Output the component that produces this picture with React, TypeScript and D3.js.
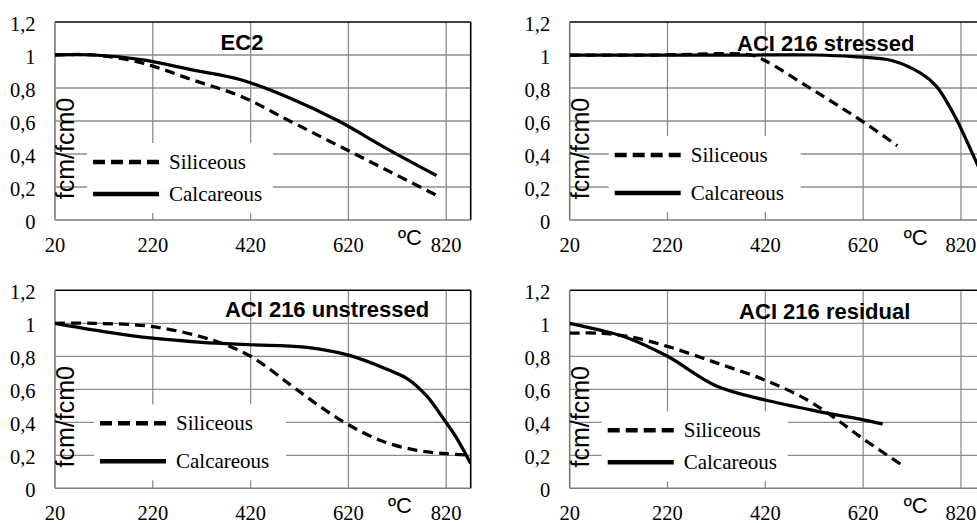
import React from "react";
import * as d3 from "d3";

type Pt = [number, number];

// axis ticks and labels
const xTicks = [20, 220, 420, 620, 820];
const yTicks = [0, 0.2, 0.4, 0.6, 0.8, 1, 1.2];
const yTickLabels = ["0", "0,2", "0,4", "0,6", "0,8", "1", "1,2"];
const seriesNames = ["Siliceous", "Calcareous"];
const panelTitles = ["EC2", "ACI 216 stressed", "ACI 216 unstressed", "ACI 216 residual"];
const yTitle = "fcm/fcm0";
const xTitle = "ºC";

// [temperature ºC, fcm/fcm0]
const ec2Siliceous: Pt[] = [[20, 1], [100, 1], [200, 0.95], [300, 0.85], [400, 0.75], [500, 0.6], [600, 0.45], [700, 0.3], [800, 0.15]];
const ec2Calcareous: Pt[] = [[20, 1], [100, 1], [200, 0.97], [300, 0.91], [400, 0.85], [500, 0.74], [600, 0.6], [700, 0.43], [800, 0.27]];

const stressedSiliceous: Pt[] = [[20, 1], [200, 1], [390, 1], [420, 0.965], [500, 0.82], [560, 0.71], [620, 0.595], [690, 0.45]];
const stressedCalcareous: Pt[] = [[20, 1], [200, 1], [400, 1], [520, 1], [600, 0.99], [680, 0.965], [740, 0.885], [770, 0.81], [800, 0.67], [820, 0.555], [850, 0.36], [870, 0.23]];

const unstressedSiliceous: Pt[] = [[20, 1], [100, 1], [220, 0.98], [340, 0.9], [420, 0.8], [500, 0.63], [560, 0.5], [620, 0.385], [690, 0.285], [760, 0.23], [820, 0.21], [870, 0.2]];
const unstressedCalcareous: Pt[] = [[20, 1], [120, 0.95], [220, 0.91], [320, 0.885], [420, 0.87], [530, 0.855], [620, 0.807], [700, 0.72], [740, 0.665], [780, 0.56], [810, 0.44], [840, 0.31], [870, 0.15]];

const residualSiliceous: Pt[] = [[20, 0.94], [80, 0.94], [140, 0.92], [220, 0.86], [320, 0.76], [420, 0.655], [500, 0.545], [560, 0.43], [620, 0.3], [700, 0.14]];
const residualCalcareous: Pt[] = [[20, 1], [80, 0.96], [140, 0.91], [220, 0.8], [320, 0.62], [420, 0.535], [530, 0.465], [620, 0.415], [660, 0.39]];

const panelSeries: Pt[][][] = [
  [ec2Siliceous, ec2Calcareous],
  [stressedSiliceous, stressedCalcareous],
  [unstressedSiliceous, unstressedCalcareous],
  [residualSiliceous, residualCalcareous],
];

const W = 977;
const H = 523;
const plotW = 415.7;
const plotH = 198;

const serif = { fontFamily: "Liberation Serif, Times New Roman, DejaVu Serif, serif" };
const sans = { fontFamily: "Liberation Sans, Arial, sans-serif" };

const layout = [
  { left: 55, top: 22, title: [187, 28], unit: 343, legend: 0 },
  { left: 569.7, top: 22, title: [256, 29], unit: 334, legend: 1 },
  { left: 55, top: 290.3, title: [272, 26.7], unit: 333, legend: 1 },
  { left: 569.7, top: 290.3, title: [255, 28.4], unit: 334, legend: 0 },
];

const legendStyles = [
  { box: [32, 121, 186, 70], line: [38, 104], rows: [140, 172], text: 114 },
  { box: [39, 114, 192, 76], line: [45, 111], rows: [133, 171], text: 121 },
];

const x = d3.scaleLinear().domain([20, 870]).range([0, plotW]);
const y = d3.scaleLinear().domain([0, 1.2]).range([plotH, 0]);
const line = d3
  .line<Pt>()
  .x((d) => x(d[0]))
  .y((d) => y(d[1]))
  .curve(d3.curveCatmullRom.alpha(0.5));

function Panel({ i }: { i: number }) {
  const L = layout[i];
  const lg = legendStyles[L.legend];
  const series = panelSeries[i];
  const clipId = "clip" + i;
  return (
    <g transform={`translate(${L.left},${L.top})`}>
      <defs>
        <clipPath id={clipId}>
          <rect x={0} y={-2} width={plotW} height={plotH + 4} />
        </clipPath>
      </defs>
      {/* gridlines */}
      {yTicks.slice(1, -1).map((t) => (
        <line key={"gy" + t} x1={0} x2={plotW} y1={y(t)} y2={y(t)} stroke="#8c8c8c" strokeWidth={1.3} />
      ))}
      {xTicks.slice(1).map((t) => (
        <line key={"gx" + t} x1={x(t)} x2={x(t)} y1={0} y2={plotH} stroke="#8c8c8c" strokeWidth={1.3} />
      ))}
      {/* legend box hides grid */}
      <rect x={lg.box[0]} y={lg.box[1]} width={lg.box[2]} height={lg.box[3]} fill="#fff" />
      {/* borders */}
      <line x1={0} x2={plotW} y1={0} y2={0} stroke="#000" strokeWidth={1.6} />
      <line x1={plotW} x2={plotW} y1={0} y2={plotH} stroke="#000" strokeWidth={1.6} />
      <line x1={0} x2={0} y1={0} y2={plotH} stroke="#7a7a7a" strokeWidth={1.6} />
      <line x1={0} x2={plotW} y1={plotH} y2={plotH} stroke="#7a7a7a" strokeWidth={1.6} />
      {/* tick labels */}
      {yTicks.map((t, k) => (
        <text key={"ty" + t} x={-19.5} y={y(t) + 9} textAnchor="end" style={serif} fontSize={20.5} fill="#000">
          {yTickLabels[k]}
        </text>
      ))}
      {xTicks.map((t) => (
        <text key={"tx" + t} x={x(t)} y={plotH + 32} textAnchor="middle" style={serif} fontSize={20.5} fill="#000">
          {t}
        </text>
      ))}
      <text x={L.unit} y={plotH + 25} style={sans} fontSize={22} fill="#000">
        {xTitle}
      </text>
      <text transform={`translate(19,126.5) rotate(-90)`} textAnchor="middle" style={sans} fontSize={25} fill="#000">
        {yTitle}
      </text>
      {/* series */}
      <g clipPath={`url(#${clipId})`}>
        {series.map((s, k) => (
          <path
            key={"s" + k}
            d={line(s) || ""}
            fill="none"
            stroke="#000"
            strokeWidth={3.25}
            strokeDasharray={k === 0 ? "10 6" : undefined}
          />
        ))}
      </g>
      {/* legend */}
      {seriesNames.map((n, k) => (
        <g key={"lg" + k}>
          <line
            x1={lg.line[0]}
            x2={lg.line[1]}
            y1={lg.rows[k]}
            y2={lg.rows[k]}
            stroke="#000"
            strokeWidth={4.5}
            strokeDasharray={k === 0 ? "12 6" : undefined}
          />
          <text x={lg.text} y={lg.rows[k] + 7} style={serif} fontSize={21} fill="#000">
            {n}
          </text>
        </g>
      ))}
      <text x={L.title[0]} y={L.title[1]} textAnchor="middle" style={sans} fontWeight="bold" fontSize={22} fill="#000">
        {panelTitles[i]}
      </text>
    </g>
  );
}

export default function App() {
  return (
    <svg
      width={W}
      height={H}
      viewBox={`0 0 ${W} ${H}`}
      style={{ position: "absolute", left: 0, top: 0, display: "block", background: "#fff" }}
    >
      <rect width={W} height={H} fill="#fff" />
      {panelTitles.map((_, i) => (
        <Panel key={i} i={i} />
      ))}
    </svg>
  );
}
